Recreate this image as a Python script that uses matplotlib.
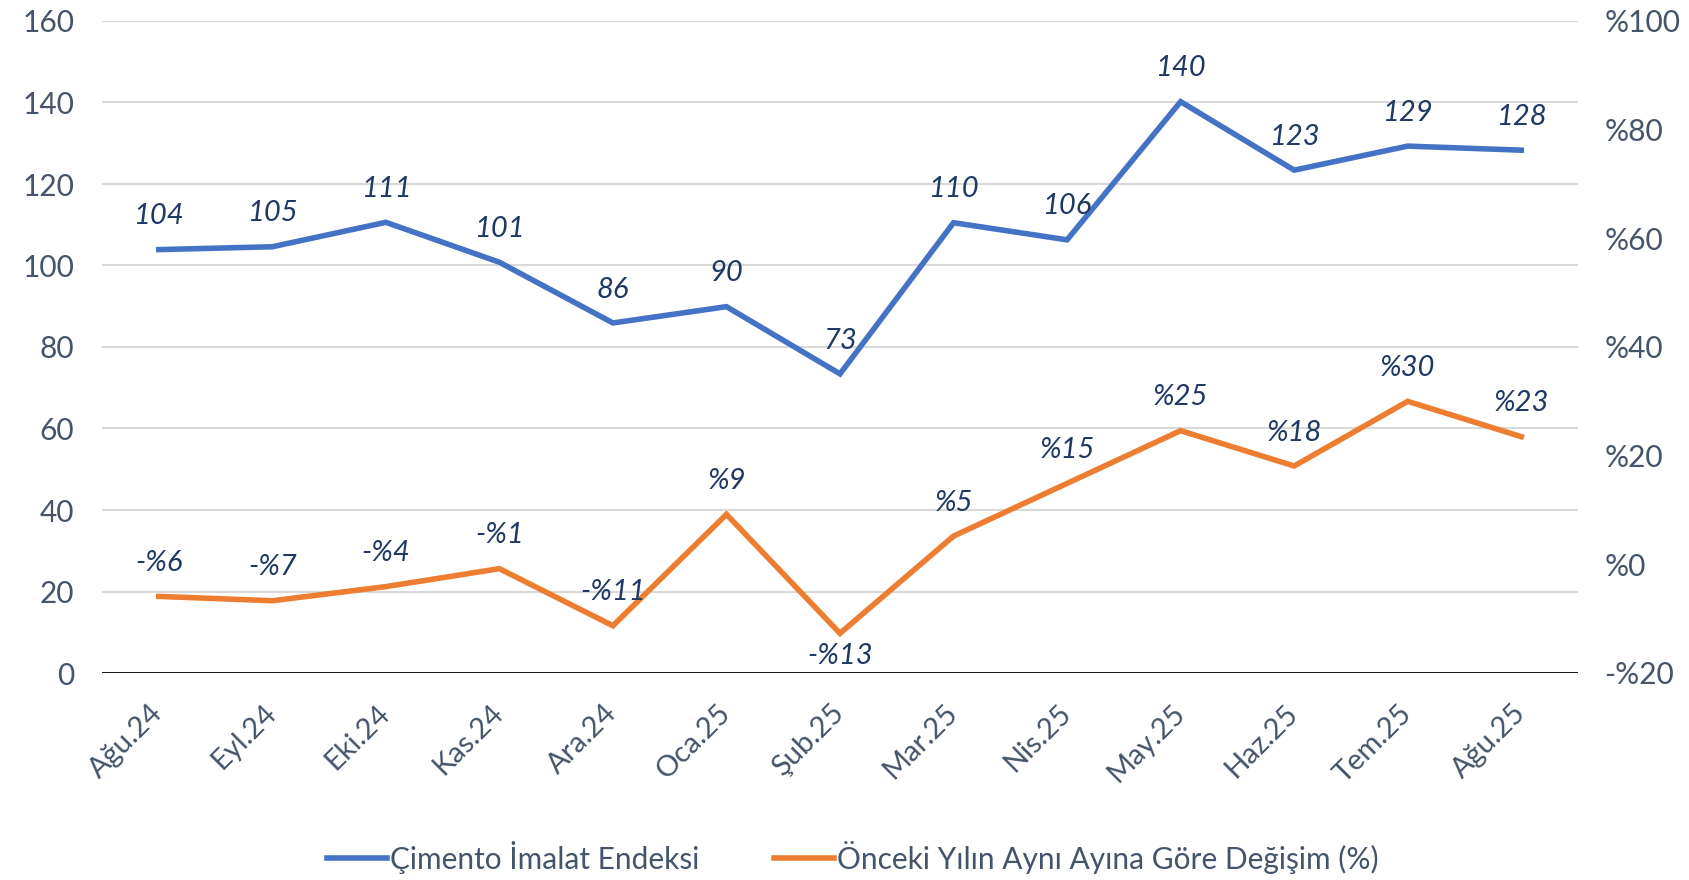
import matplotlib
matplotlib.use("Agg")
import matplotlib.pyplot as plt
import numpy as np

categories = ["Ağu.24", "Eyl.24", "Eki.24", "Kas.24", "Ara.24", "Oca.25", "Şub.25",
              "Mar.25", "Nis.25", "May.25", "Haz.25", "Tem.25", "Ağu.25"]
index_values = [103.9, 104.6, 110.6, 100.8, 85.9, 89.9, 73.4, 110.5, 106.3, 140.2, 123.4, 129.3, 128.3]
change_values = [-5.9, -6.7, -4.1, -0.8, -11.3, 9.2, -12.7, 5.2, 14.9, 24.6, 18.1, 30.0, 23.5]
index_labels = ["104", "105", "111", "101", "86", "90", "73", "110", "106", "140", "123", "129", "128"]
change_labels = ["-%6", "-%7", "-%4", "-%1", "-%11", "%9", "-%13", "%5", "%15", "%25", "%18", "%30", "%23"]
left_ticks = [0, 20, 40, 60, 80, 100, 120, 140, 160]
right_ticks = [-20, 0, 20, 40, 60, 80, 100]
series_names = ["Çimento İmalat Endeksi", "Önceki Yılın Aynı Ayına Göre Değişim (%)"]

plt.rcParams['font.family'] = ['Lato', 'DejaVu Sans']

BLUE = "#4472C4"
ORANGE = "#ED7D31"
TICK_C = "#44546A"
LABEL_C = "#1F3864"

fig = plt.figure(figsize=(16.89, 8.80), dpi=100)
ax = fig.add_axes([102/1689, 1-673/880, (1578-102)/1689, (673-21)/880])
ax2 = ax.twinx()

x = np.arange(len(categories))
l1, = ax.plot(x, index_values, color=BLUE, lw=4, solid_joinstyle='miter', zorder=3)
l2, = ax2.plot(x, change_values, color=ORANGE, lw=4, solid_joinstyle='miter', zorder=3)

ax.set_xlim(-0.5, len(categories) - 0.5)
ax.set_ylim(0, 160)
ax2.set_ylim(-20, 100)
ax.set_yticks(left_ticks)
ax2.set_yticks(right_ticks)
ax2.set_yticklabels([("-%" + str(abs(v))) if v < 0 else ("%" + str(v)) for v in right_ticks])

ax.grid(axis='y', color="#D9D9D9", lw=1.5)
ax.set_axisbelow(True)
for a in (ax, ax2):
    for s in ['top', 'left', 'right', 'bottom']:
        a.spines[s].set_visible(False)
ax.axhline(0, color='black', lw=2, zorder=2)

ax.tick_params(axis='y', length=0, pad=20, labelsize=21.5, labelcolor=TICK_C)
ax2.tick_params(axis='y', length=0, pad=19, labelsize=21.5, labelcolor=TICK_C)
ax.set_xticks(x)
ax.set_xticklabels(categories, rotation=45, ha='right', va='center', rotation_mode='anchor')
ax.tick_params(axis='x', length=0, pad=26, labelsize=21, labelcolor=TICK_C)

for xi, v, lab in zip(x, index_values, index_labels):
    ax.annotate(lab, (xi, v), xytext=(0, 24), textcoords='offset points', ha='center', va='center',
                fontsize=21, fontstyle='italic', color=LABEL_C, zorder=5)
for xi, v, lab in zip(x, change_values, change_labels):
    dy = -16 if lab == "-%13" else 24
    ax2.annotate(lab, (xi, v), xytext=(0, dy), textcoords='offset points', ha='center', va='center',
                 fontsize=21, fontstyle='italic', color=LABEL_C, zorder=5)

fig.legend([l1, l2], series_names, loc='center', bbox_to_anchor=(0.505, 0.026), ncol=2,
           frameon=False, fontsize=21.5, handlelength=2.0, handletextpad=0.1, columnspacing=2.5,
           labelcolor=TICK_C)

fig.savefig("out.png", dpi=100)
